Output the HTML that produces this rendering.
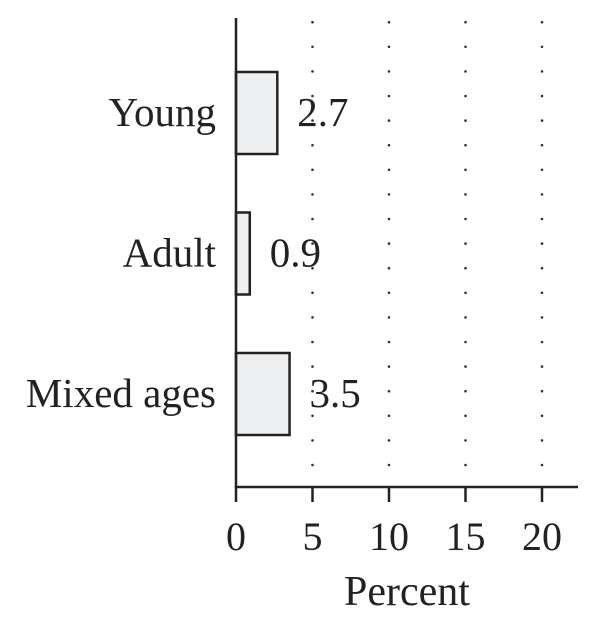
<!DOCTYPE html>
<html><head><meta charset="utf-8"><style>
body{margin:0;background:#fff}
svg text{font-family:"Liberation Serif",serif;fill:#222}
</style></head><body>
<svg width="600" height="628" viewBox="0 0 600 628">
<g id="grid"></g>
<g id="bars"></g>
<g id="axes"></g>
<text x="407" y="605" font-size="42" text-anchor="middle">Percent</text>
</svg>
<script>
const categories=["Young","Adult","Mixed ages"];
const values=[2.7,0.9,3.5];
const valueLabels=["2.7","0.9","3.5"];
const ticks=[0,5,10,15,20];
const ns="http://www.w3.org/2000/svg";
const x=v=>236+v*15.3;
const bandTop=i=>72+i*140.5;
const bandH=82;
function mk(t,a,p){const e=document.createElementNS(ns,t);for(const k in a)e.setAttribute(k,a[k]);p.appendChild(e);return e;}
const grid=document.getElementById('grid'),bars=document.getElementById('bars'),axes=document.getElementById('axes');
ticks.slice(1).forEach(t=>{
  const g=mk('g',{},grid);
  
  
  for(let yy=465;yy>15;yy-=24.6){
    mk('circle',{cx:x(t),cy:yy,r:1.3,fill:'#333'},g);
  }
});
categories.forEach((c,i)=>{
  const y=bandTop(i);
  const r=mk('rect',{x:x(0),y:y,width:x(values[i])-x(0),height:bandH,fill:'#eeeff1',stroke:'#222','stroke-width':2.5},bars);
  
  
  const t=mk('text',{x:216,y:y+bandH/2+13,'font-size':41,'text-anchor':'end'},bars);t.textContent=c;
  
  
  const v=mk('text',{x:x(values[i])+20,y:y+bandH/2+13,'font-size':41},bars);v.textContent=valueLabels[i];
  
  
});
const ya=mk('line',{x1:236,x2:236,y1:18,y2:488,stroke:'#222','stroke-width':2.5},axes);


const xa=mk('line',{x1:235,x2:578,y1:487,y2:487,stroke:'#222','stroke-width':2.5},axes);


ticks.forEach(t=>{
  const l=mk('line',{x1:x(t),x2:x(t),y1:487,y2:502,stroke:'#222','stroke-width':2.5},axes);
  
  
  const tx=mk('text',{x:x(t),y:550,'font-size':40,'text-anchor':'middle'},axes);tx.textContent=t;
  
  
});
</script>
</body></html>
